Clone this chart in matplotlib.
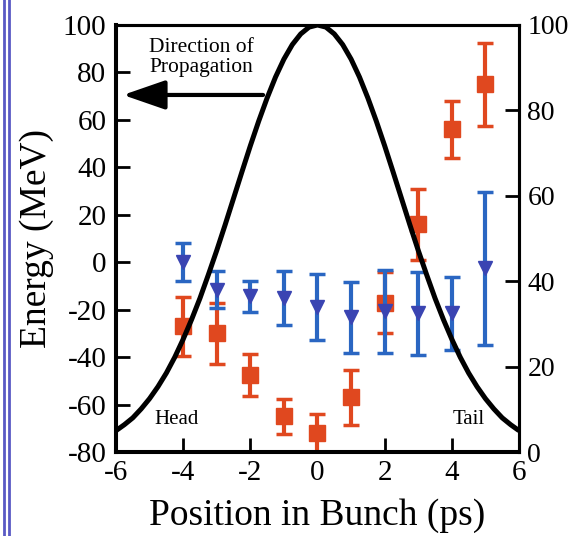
import matplotlib
matplotlib.use("Agg")
import matplotlib.pyplot as plt
import numpy as np
from matplotlib.lines import Line2D

plt.rcParams["font.family"] = ["Liberation Serif", "DejaVu Serif"]
plt.rcParams["axes.unicode_minus"] = False

# position in bunch (ps)
positions = [-4, -3, -2, -1, 0, 1, 2, 3, 4, 5]

# mean energy (MeV), left axis
energy = [-27, -30, -47.5, -65, -72, -57, -17, 16, 56, 75]
energy_err = [12.5, 13, 9, 7.5, 8, 11.5, 13, 15, 12, 17.5]

# energy spread, right axis
spread = [44.5, 38, 36.5, 36, 34, 31.5, 33, 32.5, 32.5, 43]
spread_err = [4.5, 4.3, 3.6, 6.3, 7.8, 8.2, 9.7, 9.7, 8.5, 17.9]

# bunch current profile, right axis (0.25 ps steps from -6 to 6)
profile_x = np.arange(-6, 6.01, 0.25)
profile = [5.0, 6.4, 8.0, 10.1, 12.5, 15.3, 18.5, 22.2, 26.4, 31.0, 36.0, 41.5,
           47.2, 53.2, 59.4, 65.6, 71.7, 77.5, 82.9, 87.8, 92.0, 95.4, 97.9, 99.5,
           100.0,
           99.5, 97.9, 95.4, 92.0, 87.8, 82.9, 77.5, 71.7, 65.6, 59.4, 53.2, 47.2,
           41.5, 36.0, 31.0, 26.4, 22.2, 18.5, 15.3, 12.5, 10.1, 8.0, 6.4, 5.0]

RED = "#e0481f"
BLUE = "#2a66c2"
NAVY = "#3a44b2"

fig = plt.figure(figsize=(5.73, 5.36), dpi=100)
ax = fig.add_axes([0.2024, 0.1567, 0.7034, 0.7967])
ax2 = ax.twinx()

ax.errorbar(positions, energy, yerr=energy_err, fmt="s", color=RED,
            ms=11.5, elinewidth=3, capsize=5.8, capthick=2.5, zorder=3)

ax2.errorbar(positions, spread, yerr=spread_err, fmt="v", color=BLUE,
             mfc=NAVY, mec=NAVY, ms=10, elinewidth=3, capsize=5.8,
             capthick=2.5, zorder=3)
ax2.plot(profile_x, profile, color="black", lw=3.6, zorder=4,
         solid_capstyle="butt")

ax.set_xlim(-6, 6)
ax.set_ylim(-80, 100)
ax2.set_ylim(0, 100)
ax.set_xticks(np.arange(-6, 7, 2))
ax.set_yticks(np.arange(-80, 101, 20))
ax2.set_yticks(np.arange(0, 101, 20))

ax.tick_params(axis="y", direction="in", length=10, width=2, labelsize=21,
               pad=7, left=True, right=False)
ax.tick_params(axis="x", direction="in", length=10, width=2, labelsize=21,
               pad=6, top=False)
ax2.tick_params(axis="y", direction="in", length=10, width=2, labelsize=20,
                pad=6)

for a in (ax, ax2):
    a.spines["left"].set_linewidth(2.9)
    a.spines["bottom"].set_linewidth(2.9)
    a.spines["top"].set_linewidth(2.2)
    a.spines["right"].set_linewidth(2.2)

ax.set_xlabel("Position in Bunch (ps)", fontsize=27, labelpad=9)
ax.set_ylabel("Energy (MeV)", fontsize=27, labelpad=6)

ax.text(-3.47, 86.3, "Direction of\nPropagation", fontsize=15.5,
        ha="center", va="center", linespacing=1.1)
ax.annotate("", xy=(-5.79, 70.5), xytext=(-1.62, 70.5),
            arrowprops=dict(arrowstyle="-|>,head_length=1.3,head_width=0.45",
                            color="black", lw=3, mutation_scale=20,
                            shrinkA=0, shrinkB=0))
ax.text(-4.21, -66.5, "Head", fontsize=15, ha="center", va="center")
ax.text(4.5, -66.5, "Tail", fontsize=15, ha="center", va="center")

# double rule down the left edge of the page
for xpx in (4.3, 9.3):
    fig.add_artist(Line2D([xpx / 573, xpx / 573], [0, 1],
                          transform=fig.transFigure, color="#5a5ac4", lw=2))

fig.savefig("out.png", dpi=100)
